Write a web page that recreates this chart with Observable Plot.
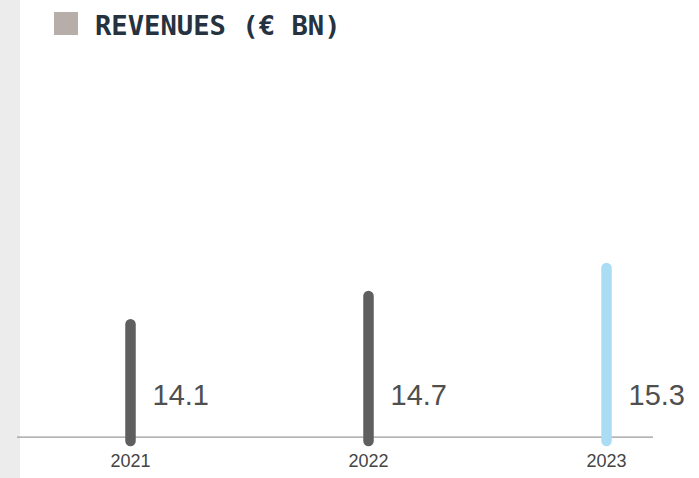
<!DOCTYPE html>
<html>
<head>
<meta charset="utf-8">
<script src="https://cdn.jsdelivr.net/npm/d3@7"></script>
<script src="https://cdn.jsdelivr.net/npm/@observablehq/plot@0.6"></script>
<style>
  html, body { margin: 0; padding: 0; background: #fff; }
  #wrap { position: relative; width: 699px; height: 478px; overflow: hidden; background: #fff; }
  #strip { position: absolute; left: 0; top: 0; width: 20px; height: 478px; background: #ececec; }
  #title { position: absolute; left: 54px; top: 0; height: 60px; display: flex; align-items: center; }
  #title .sq { width: 24px; height: 23px; background: #b7aeaa; margin-right: 17px; margin-top: -13px; }
  #title .t { font-family: "DejaVu Sans Mono", monospace; font-weight: bold; font-size: 27.2px; color: #253240; margin-top: -9px; letter-spacing: 0px; }
  #chart { position: absolute; left: 0; top: 60px; }
</style>
</head>
<body>
<div id="wrap">
  <div id="strip"></div>
  <div id="title"><div class="sq"></div><div class="t">REVENUES (€ BN)</div></div>
  <div id="chart"></div>
</div>
<script>
const years = ["2021", "2022", "2023"];
const revenues = [14.1, 14.7, 15.3];
const barColors = ["#5f5f5f", "#5f5f5f", "#aadcf4"];
const valueLabels = ["14.1", "14.7", "15.3"];

const data = years.map((y, i) => ({year: y, value: revenues[i], color: barColors[i], label: valueLabels[i]}));
const yBase = 11.7;
const yBarStart = 11.61;

const chart = Plot.plot({
  width: 699,
  height: 418,
  marginLeft: 17,
  marginRight: 46,
  marginTop: 20,
  marginBottom: 41,
  style: {background: "transparent", overflow: "visible"},
  x: {type: "point", domain: years, range: [129, 606.5], padding: 0, align: 0.5, axis: null},
  y: {domain: [yBase, 15.3], range: [376.7, 207.9], axis: null},
  marks: [
    Plot.ruleY([yBase], {stroke: "#9a9a9a", strokeWidth: 1.2}),
    Plot.ruleX(data, {x: "year", y1: () => yBarStart, y2: "value", stroke: "color", strokeWidth: 10.5, strokeLinecap: "round"}),
    Plot.text(data, {x: "year", frameAnchor: "bottom", dy: -33, dx: 22, text: "label", textAnchor: "start", fontSize: 29, fill: "#4f4f4f", fontFamily: "Liberation Sans, Arial, sans-serif"}),
    Plot.text(data, {x: "year", frameAnchor: "bottom", dy: 29.5, text: "year", fontSize: 18, fill: "#444", fontFamily: "Liberation Sans, Arial, sans-serif"})
  ]
});
document.getElementById("chart").appendChild(chart);
</script>
</body>
</html>
